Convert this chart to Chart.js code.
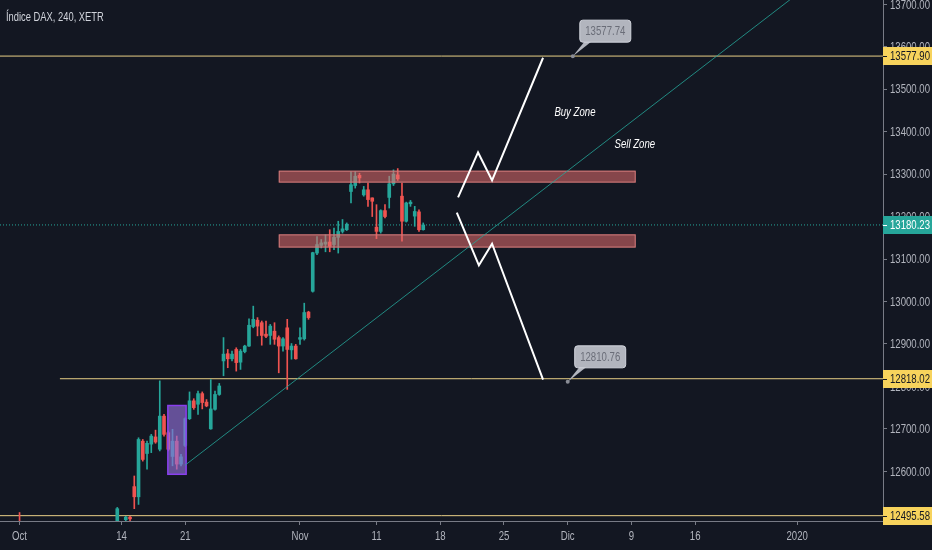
<!DOCTYPE html>
<html>
<head>
<meta charset="utf-8">
<title>Índice DAX, 240, XETR</title>
<script src="https://cdn.jsdelivr.net/npm/chart.js@4.4.1/dist/chart.umd.min.js"></script>
<style>
  html, body { margin: 0; padding: 0; background: #131722; }
  #wrap { width: 932px; height: 550px; position: relative; }
</style>
</head>
<body>
<div id="wrap"><canvas id="dax"></canvas></div>
<script>
// ── Data (4h bars, 3 per trading day, index 0 = 1 Oct 2019) ─────────
const barIdx = [0, 23, 25, 26, 27, 28, 29, 30, 31, 32, 33, 34, 35, 36, 37, 38, 39, 40, 41, 42, 43, 44, 45, 46, 47,
  48, 49, 50, 51, 52, 53, 54, 55, 56, 57, 58, 59, 60, 61, 62, 63, 64, 65, 66, 67, 68, 69,
  70, 71, 72, 73, 74, 75, 76, 77, 78, 79, 80, 81, 82, 83, 84, 85, 86, 87, 88, 89, 90, 91, 92, 93, 94, 95];
const opens = [12480, 12470, 12486, 12492, 12564, 12540, 12671, 12642, 12664, 12681, 12652, 12730, 12691, 12635, 12671, 12617, 12661, 12724, 12766, 12758, 12783, 12763, 12700, 12746, 12781,
  12860, 12877, 12865, 12887, 12857, 12882, 12895, 12941, 12956, 12950, 12923, 12920, 12930, 12915, 12895, 12938, 12886, 12895, 12911, 12912, 12975, 13024,
  13114, 13132, 13135, 13140, 13134, 13151, 13165, 13169, 13259, 13273, 13297, 13251, 13263, 13244, 13175, 13165, 13214, 13245, 13277, 13298, 13248, 13189, 13230, 13201, 13211, 13169];
const highs = [12503, 12515, 12494, 12494, 12589, 12679, 12675, 12671, 12687, 12697, 12813, 12734, 12695, 12699, 12683, 12640, 12726, 12787, 12771, 12789, 12787, 12769, 12816, 12789, 12807,
  12915, 12887, 12883, 12891, 12887, 12897, 12959, 12989, 12962, 12954, 12954, 12946, 12950, 12919, 12915, 12958, 12901, 12899, 12938, 12996, 12977, 13116,
  13153, 13146, 13157, 13169, 13173, 13189, 13193, 13185, 13306, 13306, 13302, 13271, 13279, 13244, 13228, 13216, 13228, 13295, 13310, 13313, 13279, 13234, 13238, 13224, 13216, 13185];
const lows = [12420, 12460, 12478, 12484, 12512, 12522, 12624, 12605, 12644, 12666, 12648, 12683, 12648, 12613, 12605, 12613, 12658, 12722, 12746, 12734, 12747, 12752, 12699, 12744, 12779,
  12825, 12844, 12860, 12836, 12840, 12879, 12894, 12938, 12919, 12897, 12915, 12899, 12899, 12832, 12883, 12793, 12864, 12864, 12899, 12909, 12958, 13022,
  13110, 13126, 13117, 13117, 13122, 13114, 13161, 13167, 13232, 13267, 13279, 13248, 13224, 13200, 13148, 13161, 13197, 13220, 13273, 13285, 13142, 13187, 13224, 13177, 13165, 13168];
const closes = [12470, 12512, 12492, 12488, 12540, 12675, 12628, 12666, 12683, 12669, 12730, 12687, 12652, 12671, 12617, 12634, 12724, 12766, 12750, 12783, 12762, 12754, 12747, 12781, 12801,
  12876, 12865, 12876, 12856, 12883, 12895, 12944, 12958, 12942, 12920, 12918, 12942, 12911, 12895, 12912, 12887, 12895, 12865, 12915, 12974, 12962, 13115,
  13134, 13138, 13140, 13130, 13151, 13165, 13171, 13182, 13275, 13295, 13291, 13263, 13240, 13236, 13165, 13214, 13200, 13277, 13300, 13289, 13189, 13232, 13234, 13212, 13169, 13180.23];

// axis ticks
const dayIdx = [0, 24, 39, 66, 84, 99, 114, 129, 144, 159, 183];
const dayLabels = ['Oct', '14', '21', 'Nov', '11', '18', '25', 'Dic', '9', '16', '2020'];
const priceTicks = [12500, 12600, 12700, 12800, 12900, 13000, 13100, 13200, 13300, 13400, 13500, 13600, 13700];
const X_MIN = -4.6, X_MAX = 203.2, Y_MIN = 12483, Y_MAX = 13710;

// drawings
const levelPrices = [13577.90, 12818.02, 12495.58];
const levelStarts = [X_MIN, 9.5, X_MIN];
const lastPrice = 13180.23;
const zoneX0 = [61, 61], zoneX1 = [145, 145];
const zoneLo = [13280, 13127], zoneHi = [13308, 13158];
const boxX = [34.9, 39.2], boxY = [12593, 12755];
const trendX = [38.9, 192], trendY = [12614, 13793];
const upX = [103.2, 107.9, 111.2, 123.2], upY = [13245, 13351, 13285, 13574];
const downX = [102.9, 108.1, 111.2, 123.2], downY = [13209, 13085, 13136, 12816];
const calloutX = [130.2, 129], calloutY = [13577.74, 12810.76];
const noteText = ['Buy Zone', 'Sell Zone'], noteX = [130.7, 144.8], noteY = [13444, 13369];

const FONT = "'Liberation Sans', Arial, sans-serif";
const SQUEEZE = 0.8; // chart font is a narrow face, none installed
const UP = '#26a69a', DOWN = '#ef5350', AXIS = '#787b86', TXT = '#b2b5be';

const candleColors = barIdx.map((_, i) => closes[i] >= opens[i] ? UP : DOWN);
const wickData = barIdx.map((x, i) => ({ x, y: [lows[i], highs[i]] }));
const bodyData = barIdx.map((x, i) => ({ x, y: [opens[i], closes[i]] }));
const pts = (xs, ys) => xs.map((x, i) => ({ x, y: ys[i] }));

// narrow text: squeeze horizontally around the anchor
function narrowText(ctx, text, x, y, align, font, color, squeeze = SQUEEZE) {
  ctx.save();
  ctx.font = font;
  ctx.fillStyle = color;
  ctx.textAlign = align;
  ctx.textBaseline = 'middle';
  ctx.translate(x, y);
  ctx.scale(squeeze, 1);
  ctx.fillText(text, 0, 0);
  ctx.restore();
}

// ── Plugins ─────────────────────────────────────────────────
const bgPlugin = {
  id: 'bg',
  beforeDraw(chart) {
    const { ctx, width, height } = chart;
    ctx.save();
    ctx.fillStyle = '#131722';
    ctx.fillRect(0, 0, width, height);
    ctx.restore();
  }
};

const boxPlugin = {
  id: 'boxes',
  afterDatasetDraw(chart, args) {
    if (args.index !== 1) return; // right after the candle bodies
    const { ctx, scales: { x, y } } = chart;
    ctx.save();
    zoneLo.forEach((lo, i) => {
      const l = x.getPixelForValue(zoneX0[i]), r = x.getPixelForValue(zoneX1[i]);
      const t = y.getPixelForValue(zoneHi[i]), b = y.getPixelForValue(lo);
      ctx.fillStyle = 'rgba(230,110,110,0.55)';
      ctx.fillRect(l, t, r - l, b - t);
      ctx.strokeStyle = '#d07a7a';
      ctx.lineWidth = 1;
      ctx.strokeRect(l + 0.5, t + 0.5, r - l - 1, b - t - 1);
    });
    const l = x.getPixelForValue(boxX[0]), r = x.getPixelForValue(boxX[1]);
    const t = y.getPixelForValue(boxY[1]), b = y.getPixelForValue(boxY[0]);
    ctx.fillStyle = 'rgba(145,110,215,0.65)';
    ctx.fillRect(l, t, r - l, b - t);
    ctx.strokeStyle = '#8a3ff0';
    ctx.lineWidth = 1.5;
    ctx.strokeRect(l, t, r - l, b - t);
    ctx.restore();
  }
};

function callout(ctx, ax, ay, text) {
  const bx = ax + 7, by = ay - 36, bw = 51, bh = 22;
  ctx.save();
  ctx.fillStyle = '#b2b5be';
  ctx.beginPath();
  ctx.moveTo(ax, ay);
  ctx.lineTo(bx + 5, by + bh - 1);
  ctx.lineTo(bx + 12, by + bh - 1);
  ctx.closePath();
  ctx.fill();
  ctx.beginPath();
  ctx.roundRect(bx, by, bw, bh, 3);
  ctx.fill();
  ctx.strokeStyle = '#d1d4dc';
  ctx.lineWidth = 1;
  ctx.stroke();
  ctx.fillStyle = '#8a8d96';
  ctx.beginPath();
  ctx.arc(ax, ay, 2, 0, Math.PI * 2);
  ctx.fill();
  ctx.restore();
  narrowText(ctx, text, bx + bw / 2, by + bh / 2 + 1, 'center', '12px ' + FONT, '#6a6d78');
}

const overlayPlugin = {
  id: 'overlay',
  afterDraw(chart) {
    const { ctx, chartArea, scales: { x, y } } = chart;
    const axisFont = '12px ' + FONT;

    // title
    narrowText(ctx, 'Índice DAX, 240, XETR', 6, 17, 'left', '13px ' + FONT, '#d1d4dc', 0.72);

    // axis labels
    priceTicks.forEach(v => narrowText(ctx, v.toFixed(2), chartArea.right + 7, y.getPixelForValue(v) + 1, 'left', axisFont, TXT));
    dayIdx.forEach((v, i) => narrowText(ctx, dayLabels[i], x.getPixelForValue(v), 537, 'center', axisFont, TXT));

    // zone notes
    noteText.forEach((t, i) => narrowText(ctx, t, x.getPixelForValue(noteX[i]), y.getPixelForValue(noteY[i]), 'center', 'italic 12px ' + FONT, '#ffffff'));

    // price callouts
    calloutY.forEach((v, i) => callout(ctx, x.getPixelForValue(calloutX[i]), y.getPixelForValue(v), v.toFixed(2)));

    // axis price tags
    const tags = levelPrices.map(v => ({ v, bg: '#f7d35c', fg: '#131722' }));
    tags.push({ v: lastPrice, bg: UP, fg: '#ffffff' });
    tags.forEach(tg => {
      const py = Math.round(y.getPixelForValue(tg.v));
      ctx.save();
      ctx.fillStyle = tg.bg;
      ctx.fillRect(chartArea.right, py - 9, chart.width - chartArea.right, 18);
      ctx.strokeStyle = tg.fg;
      ctx.beginPath();
      ctx.moveTo(chartArea.right, py + 0.5);
      ctx.lineTo(chartArea.right + 4, py + 0.5);
      ctx.stroke();
      ctx.restore();
      narrowText(ctx, tg.v.toFixed(2), chartArea.right + 7, py + 1, 'left', axisFont, tg.fg);
    });
  }
};

// ── Chart ───────────────────────────────────────────────────
const levelSets = levelPrices.map((p, i) => ({
  type: 'line',
  data: pts([levelStarts[i], X_MAX], [p, p]),
  borderColor: '#e8cf86',
  borderWidth: 1,
  pointRadius: 0,
  order: 4
}));

new Chart(document.getElementById('dax'), {
  type: 'bar',
  data: {
    datasets: [
      { data: wickData, backgroundColor: candleColors, barThickness: 1, grouped: false, order: 3 },
      { data: bodyData, backgroundColor: candleColors, barThickness: 3, minBarLength: 1, grouped: false, order: 2 },
      ...levelSets,
      {
        type: 'line', data: pts([X_MIN, X_MAX], [lastPrice, lastPrice]),
        borderColor: UP, borderWidth: 1, borderDash: [1, 2], pointRadius: 0, order: 4
      },
      {
        type: 'line', data: pts(trendX, trendY),
        borderColor: 'rgba(38,166,154,0.8)', borderWidth: 1, pointRadius: 0, order: 1
      },
      {
        type: 'line', data: pts(upX, upY),
        borderColor: '#ffffff', borderWidth: 2, pointRadius: 0, order: 0
      },
      {
        type: 'line', data: pts(downX, downY),
        borderColor: '#ffffff', borderWidth: 2, pointRadius: 0, order: 0
      }
    ]
  },
  options: {
    responsive: true, maintainAspectRatio: false,
    animation: false,
    layout: { padding: 0 },
    events: [],
    scales: {
      x: {
        type: 'linear', min: X_MIN, max: X_MAX, offset: false,
        afterBuildTicks: s => { s.ticks = dayIdx.map(v => ({ value: v })); },
        afterFit: s => { s.height = 29; s.paddingLeft = 0; s.paddingRight = 0; },
        grid: { drawOnChartArea: false, tickLength: 4, color: AXIS, offset: false },
        border: { display: true, color: AXIS },
        ticks: { display: false }
      },
      y: {
        position: 'right', min: Y_MIN, max: Y_MAX, beginAtZero: false,
        afterBuildTicks: s => { s.ticks = priceTicks.map(v => ({ value: v })); },
        afterFit: s => { s.width = 49; s.paddingTop = 0; s.paddingBottom = 0; },
        grid: { drawOnChartArea: false, tickLength: 4, color: AXIS },
        border: { display: true, color: AXIS },
        ticks: { display: false }
      }
    },
    plugins: { legend: { display: false }, tooltip: { enabled: false } }
  },
  plugins: [bgPlugin, boxPlugin, overlayPlugin]
});
</script>
</body>
</html>
